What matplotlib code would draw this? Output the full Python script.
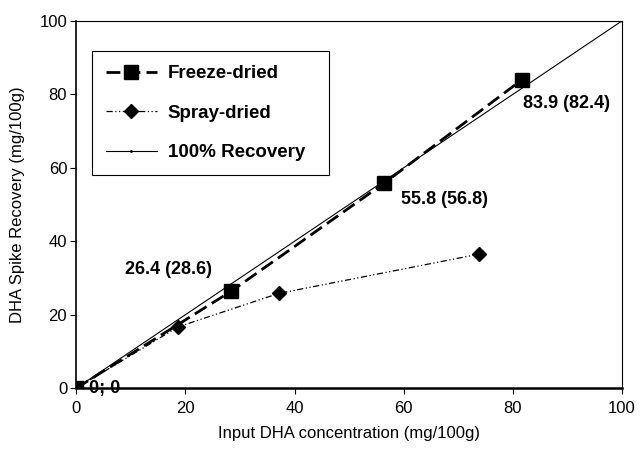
import matplotlib.pyplot as plt

plt.rcParams['font.family'] = ['Liberation Sans', 'DejaVu Sans']

freeze_x = [0, 28.4, 56.4, 81.6]
freeze_y = [0, 26.4, 55.8, 83.9]
spray_x = [0, 18.7, 37.1, 73.8]
spray_y = [0, 16.7, 25.8, 36.5]
ideal_x = [0, 100]
ideal_y = [0, 100]
point_labels = ['0; 0', '26.4 (28.6)', '55.8 (56.8)', '83.9 (82.4)']

fig = plt.figure(figsize=(6.4, 4.53), dpi=100)
ax = fig.add_axes([0.119, 0.143, 0.853, 0.811])

ax.plot(freeze_x, freeze_y, color='black', linestyle=(0, (5, 2.2)), linewidth=2,
        marker='s', markersize=10, label='Freeze-dried', zorder=3)
ax.plot(spray_x, spray_y, color='black', linestyle=(0, (5, 2, 1, 2, 1, 2)), linewidth=0.9,
        marker='D', markersize=7, label='Spray-dried', zorder=3)
ax.plot(ideal_x, ideal_y, color='black', linestyle='-', linewidth=0.8,
        marker='.', markersize=2, label='100% Recovery', zorder=2)

# point annotations
offsets = [(9, 0), (-45, 16), (12, -12), (1, -17)]
has = ['left', 'center', 'left', 'left']
for (x, y, txt, off, ha) in zip(freeze_x, freeze_y, point_labels, offsets, has):
    ax.annotate(txt, (x, y), xytext=off, textcoords='offset points', ha=ha, va='center',
                fontsize=13, fontweight='bold', zorder=4)

ax.set_xlim(0, 100)
ax.set_ylim(0, 100)
ax.set_xticks(range(0, 101, 20))
ax.set_yticks(range(0, 101, 20))
ax.tick_params(axis='both', direction='out', length=4, width=0.8, labelsize=12)
ax.tick_params(axis='x', pad=5.5)
ax.tick_params(axis='y', pad=2.5)
ax.spines['bottom'].set_linewidth(1.8)
ax.spines['left'].set_linewidth(1.2)
ax.spines['top'].set_linewidth(0.8)
ax.spines['right'].set_linewidth(0.8)
ax.set_xlabel('Input DHA concentration (mg/100g)', fontsize=12, labelpad=7)
ax.set_ylabel('DHA Spike Recovery (mg/100g)', fontsize=12, labelpad=10)

leg = ax.legend(loc='upper left', bbox_to_anchor=(0.029, 0.918, 0.434, 0.0), mode='expand',
                borderaxespad=0, fancybox=False, edgecolor='black', framealpha=1,
                prop={'weight': 'bold', 'size': 13.5},
                handlelength=2.7, borderpad=0.75, labelspacing=1.2, handletextpad=0.6)
leg.get_frame().set_linewidth(0.8)

fig.savefig('out.png', dpi=100)
